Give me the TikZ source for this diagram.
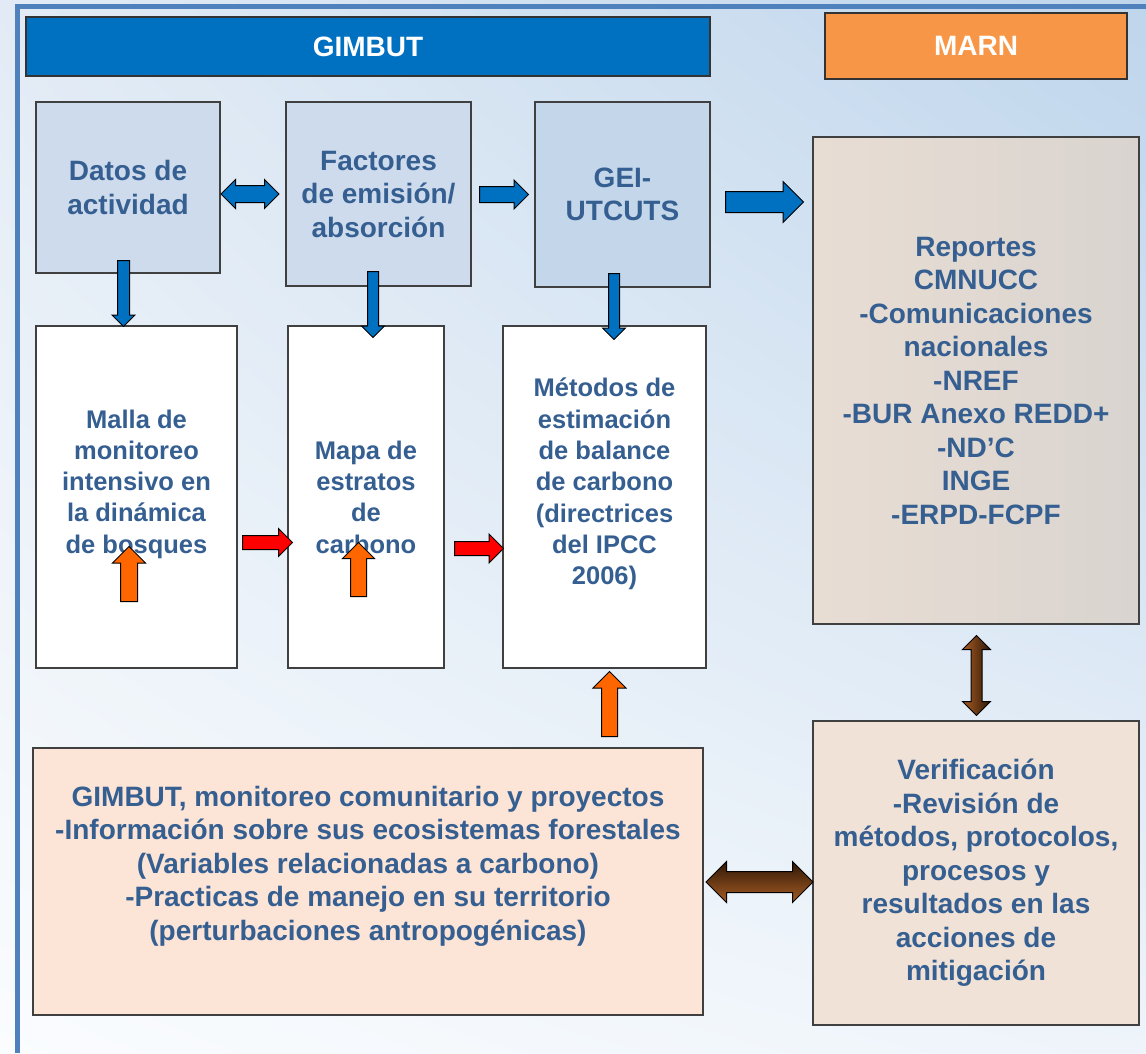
\documentclass[tikz,border=0pt]{standalone}
\usepackage{fontspec}
\setmainfont{Liberation Sans}
\usetikzlibrary{shapes.arrows,shadings}
\definecolor{GimbutBlue}{HTML}{0070C0}
\definecolor{MarnOrange}{HTML}{F79646}
\definecolor{TextBlue}{HTML}{365F91}
\definecolor{FrameBlue}{HTML}{4F81BD}
\definecolor{BoxBlue}{HTML}{CEDBEC}
\definecolor{ReportLeft}{HTML}{E8DDD3}
\definecolor{ReportRight}{HTML}{D9D4D0}
\definecolor{VerifFill}{HTML}{F0E2D7}
\definecolor{CommFill}{HTML}{FCE4D6}
\definecolor{ArrowOrange}{HTML}{FF6600}
\definecolor{BrownDark}{HTML}{2E1705}
\definecolor{BrownLight}{HTML}{A65C25}
\definecolor{BgTopLeft}{HTML}{E2EBF5}
\definecolor{BgTopRight}{HTML}{BED5EC}
\definecolor{BgBottomLeft}{HTML}{FAFCFE}
\definecolor{BgBottomRight}{HTML}{EEF4FA}

\begin{document}
\begin{tikzpicture}[x=1pt, y=-1pt,
    box/.style={draw=black!75, line width=1.2pt, align=center, inner sep=0pt, text=TextBlue, font=\bfseries\fontsize{28}{33.5}\selectfont},
    boxtext/.style={align=center, inner sep=0pt, text=TextBlue, font=\bfseries\fontsize{28}{33.5}\selectfont},
    narrow/.style={font=\bfseries\fontsize{25.5}{31.3}\selectfont},
    banner/.style={draw=black!80, line width=1.2pt, text=white, font=\bfseries\fontsize{28}{33.5}\selectfont},
    singlearrow/.style={single arrow, draw=black, line width=1pt, inner xsep=0pt, anchor=tail},
    doublearrow/.style={double arrow, draw=black, line width=1pt, inner xsep=0pt}]
        \useasboundingbox (0,0) rectangle (1146,1053);
        \shade[upper left=BgTopLeft, upper right=BgTopRight, lower left=BgBottomLeft, lower right=BgBottomRight] (0,0) rectangle (1146,1053);
        \draw[FrameBlue, line width=5pt] (1146,6.5) -- (17.5,6.5) -- (17.5,1053);

        \node[banner, fill=GimbutBlue, minimum width=684pt, minimum height=59pt] (gimbut) at (368,46.5) {GIMBUT};
        \node[banner, fill=MarnOrange, minimum width=302pt, minimum height=66pt] (marn) at (976,46) {MARN};

        \node[box, fill=BoxBlue, minimum width=184pt, minimum height=171pt] (datos) at (128,187.5) {Datos de\\actividad};
        \node[box, fill=BoxBlue, minimum width=185pt, minimum height=184pt] (factores) at (378.5,194) {Factores\\de emisión/\\absorción};
        \node[box, fill=BoxBlue!95!GimbutBlue, minimum width=175pt, minimum height=185pt] (gei) at (622.5,194.5) {GEI-\\UTCUTS};
        \node[box, left color=ReportLeft, right color=ReportRight, minimum width=326pt, minimum height=487pt] (reportes) at (976,380.5) {Reportes\\CMNUCC\\-Comunicaciones\\nacionales\\-NREF\\-BUR Anexo REDD+\\-ND’C\\INGE\\-ERPD-FCPF};

        \node[box, fill=white, minimum width=201pt, minimum height=342pt] (malla) at (136.5,497) {};
        \node[boxtext, narrow] (mallatext) at (136.5,484) {Malla de\\monitoreo\\intensivo en\\la dinámica\\de bosques};
        \node[box, narrow, fill=white, minimum width=156pt, minimum height=342pt] (mapa) at (366,497) {Mapa de\\estratos\\de\\carbono};
        \node[box, fill=white, minimum width=203pt, minimum height=342pt] (metodos) at (604.5,497) {};
        \node[boxtext, narrow] (metodostext) at (604.5,484) {Métodos de\\estimación\\de balance\\de carbono\\(directrices\\del IPCC\\2006)};

        \node[box, fill=CommFill, minimum width=670pt, minimum height=267pt] (comunidad) at (368,881.5) {};
        \node[boxtext] (comunidadtext) at (368,866) {GIMBUT, monitoreo comunitario y proyectos\\-Información sobre sus ecosistemas forestales\\(Variables relacionadas a carbono)\\-Practicas de manejo en su territorio\\(perturbaciones antropogénicas)};
        \node[box, fill=VerifFill, minimum width=326pt, minimum height=304pt] (verificacion) at (976,873) {Verificación\\-Revisión de\\métodos, protocolos,\\procesos y\\resultados en las\\acciones de\\mitigación};

        \node[doublearrow, fill=GimbutBlue, minimum height=58pt, inner ysep=8pt, double arrow head extend=6pt] (datosfactores) at (250,194) {};
        \node[singlearrow, fill=GimbutBlue, minimum height=49pt, inner ysep=7.5pt, single arrow head extend=6.5pt] (factoresgei) at (479,194.5) {};
        \node[singlearrow, fill=GimbutBlue, minimum height=78pt, inner ysep=10pt, single arrow head extend=10pt] (geireportes) at (725,202) {};

        \node[singlearrow, fill=GimbutBlue, rotate=-90, minimum height=66pt, inner ysep=5.5pt, single arrow head extend=5.5pt] (datosmalla) at (123.5,260) {};
        \node[singlearrow, fill=GimbutBlue, rotate=-90, minimum height=66pt, inner ysep=5pt, single arrow head extend=6pt] (factoresmapa) at (373,271) {};
        \node[singlearrow, fill=GimbutBlue, rotate=-90, minimum height=66pt, inner ysep=5pt, single arrow head extend=6pt] (geimetodos) at (614,273) {};

        \node[singlearrow, fill=red, minimum height=50pt, inner ysep=6.5pt, single arrow head extend=7pt] (mallamapa) at (242,542.5) {};
        \node[singlearrow, fill=red, minimum height=49pt, inner ysep=6.5pt, single arrow head extend=7.5pt] (mapametodos) at (454,548.5) {};

        \node[singlearrow, fill=ArrowOrange, rotate=90, minimum height=55pt, inner ysep=8pt, single arrow head extend=8pt] (mallaup) at (129,602) {};
        \node[singlearrow, fill=ArrowOrange, rotate=90, minimum height=54pt, inner ysep=7.5pt, single arrow head extend=8pt] (mapaup) at (358.5,597) {};
        \node[singlearrow, fill=ArrowOrange, rotate=90, minimum height=65pt, inner ysep=7.5pt, single arrow head extend=8.5pt] (comunidadmetodos) at (609.5,737) {};

        \node[doublearrow, left color=BrownLight, right color=BrownDark, rotate=90, minimum height=80pt, inner ysep=5pt, double arrow head extend=8.5pt] (reportesverificacion) at (976.5,675.5) {};
        \node[doublearrow, top color=BrownDark, bottom color=BrownLight, minimum height=107pt, inner ysep=10pt, double arrow head extend=10pt] (comunidadverificacion) at (759.5,882) {};
    \end{tikzpicture}
\end{document}
